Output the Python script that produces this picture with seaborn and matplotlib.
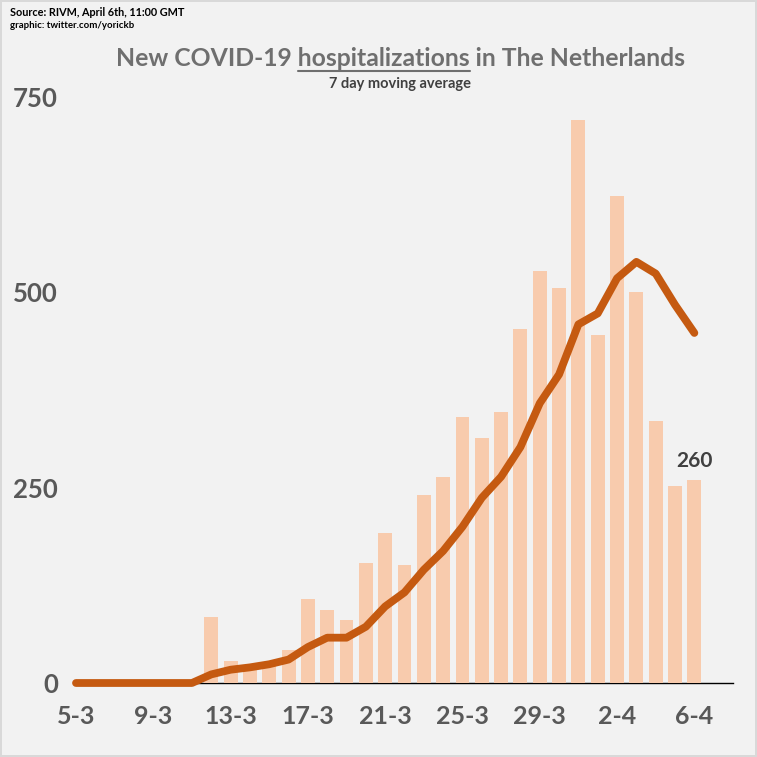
import numpy as np
import pandas as pd
import matplotlib
matplotlib.use('Agg')
import matplotlib.pyplot as plt
from matplotlib.lines import Line2D
import seaborn as sns

# daily values, 5 March - 6 April
DATES = ['5-3', '6-3', '7-3', '8-3', '9-3', '10-3', '11-3', '12-3', '13-3', '14-3',
         '15-3', '16-3', '17-3', '18-3', '19-3', '20-3', '21-3', '22-3', '23-3', '24-3',
         '25-3', '26-3', '27-3', '28-3', '29-3', '30-3', '31-3', '1-4', '2-4', '3-4',
         '4-4', '5-4', '6-4']
NEW_HOSP = [0, 0, 0, 0, 0, 0, 0, 85, 28, 20,
            25, 42, 107, 93, 81, 154, 192, 151, 241, 264,
            340, 314, 347, 453, 527, 505, 720, 445, 623, 500,
            335, 252, 260]
MOVING_AVG = [0, 0, 0, 0, 0, 0, 0, 11, 17, 20,
              24, 30, 46, 58, 58, 72, 98, 116, 145, 169,
              200, 237, 264, 302, 358, 395, 459, 473, 518, 539,
              524, 484, 448]
Y_TICKS = [0, 250, 500, 750]
LAST_LABEL = '260'

BG = '#f2f2f2'
BAR_COLOR = '#f8cbad'
LINE_COLOR = '#c55a11'
GREY = '#595959'

df = pd.DataFrame({'day': np.arange(len(DATES)), 'date': DATES,
                   'new': NEW_HOSP, 'avg': MOVING_AVG})

sns.set_style('white')
plt.rcParams['font.family'] = ['Lato', 'DejaVu Sans']
plt.rcParams['font.weight'] = 'bold'

fig = plt.figure(figsize=(7.57, 7.57), dpi=100, facecolor=BG)
fig.patch.set_edgecolor('#d9d9d9')
fig.patch.set_linewidth(1.5)
ax = fig.add_axes([76/757, 1 - 683/757, 657/757, 586/757])
ax.set_facecolor(BG)

sns.barplot(data=df, x='day', y='new', native_scale=True, width=0.72,
            color=BAR_COLOR, saturation=1, errorbar=None, linewidth=0, ax=ax)
sns.lineplot(data=df, x='day', y='avg', color=LINE_COLOR, linewidth=5.6,
             ax=ax, solid_capstyle='round', solid_joinstyle='round', clip_on=False)

ax.set_xlim(0, 34)
ax.set_ylim(0, 750)
ax.set_xlabel('')
ax.set_ylabel('')

xt = df['day'].values[::4]
ax.set_xticks(xt)
ax.set_xticklabels(df['date'].values[::4])
ax.set_yticks(Y_TICKS)
ax.tick_params(axis='x', length=10, width=1, color='black', direction='out',
               pad=6, labelsize=18, labelcolor=GREY)
ax.tick_params(axis='y', length=0, pad=13, labelsize=18.5, labelcolor=GREY)
for lab in ax.get_xticklabels() + ax.get_yticklabels():
    lab.set_fontweight('bold')

for s in ['top', 'right', 'left']:
    ax.spines[s].set_visible(False)
ax.spines['bottom'].set_color('black')
ax.spines['bottom'].set_linewidth(1)
ax.spines['bottom'].set_zorder(0.5)

# value label for last day
ax.text(df['day'].iloc[-1], 284, LAST_LABEL, ha='center', va='center',
        fontsize=15, fontweight='bold', color='#404040')

# title with underlined word
pre, word, post = 'New COVID-19 ', 'hospitalizations', ' in The Netherlands'
tprops = dict(fontsize=17.8, fontweight='bold', color='#6f6f6f')
title = fig.text(0.529, 1 - 58/757, pre + word + post, ha='center', va='center', **tprops)
fig.text(0.529, 1 - 84/757, '7 day moving average', ha='center', va='center',
         fontsize=10.5, fontweight='bold', color='#404040')

fig.canvas.draw()
r = fig.canvas.get_renderer()
bb = title.get_window_extent(r)

def text_width(s):
    t = fig.text(0, 0, s, **tprops)
    w = t.get_window_extent(r).width
    t.remove()
    return w

x1 = bb.x0 + text_width(pre + word)
x0 = x1 - text_width(word)
yline = bb.y0 - 1
W, H = fig.bbox.width, fig.bbox.height
fig.add_artist(Line2D([x0 / W, x1 / W], [yline / H, yline / H],
                      color='#6f6f6f', linewidth=1.5, transform=fig.transFigure))

fig.text(10/757, 1 - 12/757, 'Source: RIVM, April 6th, 11:00 GMT', ha='left', va='center',
         fontsize=7.8, fontweight='bold', color='black')
fig.text(10/757, 1 - 26/757, 'graphic: twitter.com/yorickb', ha='left', va='center',
         fontsize=6.9, fontweight='bold', color='black')

fig.savefig('out.png', dpi=100, facecolor=BG, edgecolor=fig.get_edgecolor())
